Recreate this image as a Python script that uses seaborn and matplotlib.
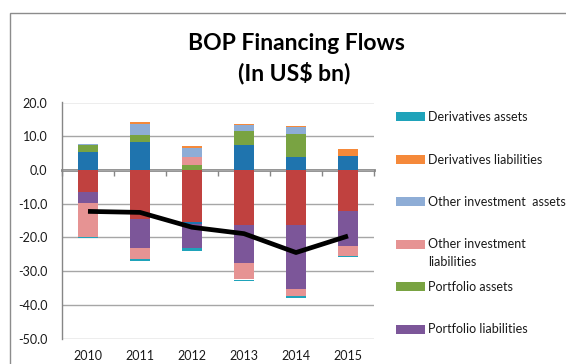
import numpy as np
import matplotlib
matplotlib.use("Agg")
import matplotlib.pyplot as plt
from matplotlib.patches import Rectangle
from matplotlib.ticker import FormatStrFormatter, MultipleLocator
import seaborn as sns

# ---- data (US$ bn) ----
years = ["2010", "2011", "2012", "2013", "2014", "2015"]

direct_inv_assets = [5.4, 8.3, -0.6, 7.5, 3.7, 4.1]
direct_inv_liabilities = [-6.5, -14.6, -15.4, -16.2, -16.4, -12.2]
portfolio_assets = [2.1, 2.0, 1.4, 4.0, 6.9, 0.0]
portfolio_liabilities = [-3.4, -8.5, -7.2, -11.3, -19.0, -10.3]
other_inv_assets = [0.3, 3.3, 2.9, 1.7, 2.0, 0.0]
other_inv_liabilities = [-10.1, -3.4, 2.3, -5.0, -2.1, -3.0]
derivatives_assets = [-0.3, -0.5, -0.8, -0.5, -0.5, -0.4]
derivatives_liabilities = [0.0, 0.6, 0.5, 0.4, 0.4, 2.0]
net_financing = [-12.3, -12.6, -17.0, -18.9, -24.5, -19.6]

legend_labels = [
    "Derivatives assets",
    "Derivatives liabilities",
    "Other investment  assets",
    "Other investment\nliabilities",
    "Portfolio assets",
    "Portfolio liabilities",
]

series = {
    "Direct investment assets": (direct_inv_assets, "#1F74AE"),
    "Direct investment liabilities": (direct_inv_liabilities, "#C0413F"),
    "Portfolio assets": (portfolio_assets, "#79A342"),
    "Portfolio liabilities": (portfolio_liabilities, "#7C5699"),
    "Other investment assets": (other_inv_assets, "#8EADD6"),
    "Other investment liabilities": (other_inv_liabilities, "#E69393"),
    "Derivatives assets": (derivatives_assets, "#1FA3BA"),
    "Derivatives liabilities": (derivatives_liabilities, "#F5893A"),
}

# stacking order above and below zero
pos_order = ["Direct investment assets", "Portfolio assets",
             "Other investment liabilities", "Other investment assets",
             "Derivatives liabilities"]
neg_order = ["Direct investment liabilities", "Direct investment assets",
             "Portfolio liabilities", "Other investment liabilities",
             "Derivatives assets"]

plt.rcParams["axes.unicode_minus"] = False
sns.set_style("white")
plt.rcParams["font.family"] = ["Lato", "DejaVu Sans"]

W, H = 566, 364
fig = plt.figure(figsize=(W / 100, H / 100), dpi=100)
ax = fig.add_axes([62 / W, 1 - 338.5 / H, 312 / W, 236 / H])

pos_base = np.zeros(len(years))
for name in pos_order:
    vals, col = series[name]
    part = np.clip(np.array(vals), 0, None)
    sns.barplot(x=years, y=part, bottom=pos_base.copy(), color=col,
                saturation=1, width=0.4, errorbar=None, linewidth=0, ax=ax)
    pos_base += part

neg_base = np.zeros(len(years))
for name in neg_order:
    vals, col = series[name]
    part = np.clip(np.array(vals), None, 0)
    sns.barplot(x=years, y=part, bottom=neg_base.copy(), color=col,
                saturation=1, width=0.4, errorbar=None, linewidth=0, ax=ax)
    neg_base += part

sns.lineplot(x=np.arange(len(years)), y=net_financing, color="black",
             linewidth=3.4, solid_joinstyle="round", solid_capstyle="butt", ax=ax)

ax.set_xlim(-0.5, len(years) - 0.5)
ax.set_ylim(-50, 20)
ax.yaxis.set_major_locator(MultipleLocator(10))
ax.yaxis.set_major_formatter(FormatStrFormatter("%.1f"))
ax.yaxis.grid(True, color="#A6A6A6", linewidth=1.0)
ax.set_axisbelow(True)
ax.set_xlabel("")
ax.set_ylabel("")

for s in ("top", "right", "bottom"):
    ax.spines[s].set_visible(False)
ax.spines["left"].set_color("#868686")
ax.spines["left"].set_linewidth(1.0)
ax.tick_params(axis="y", direction="out", length=5, width=1, color="#868686",
               pad=5.5, labelsize=9, labelcolor="#1A1A1A")
ax.tick_params(axis="x", length=0, pad=8, labelsize=9, labelcolor="#1A1A1A")

# category axis drawn across the zero line
zero_frac = (0 - (-50)) / 70
sec = ax.secondary_xaxis(zero_frac)
sec.set_alignment("bottom")
sec.set_xticks(np.arange(-0.5, len(years), 1.0))
sec.tick_params(axis="x", direction="out", length=4, width=1, color="#868686",
                labelbottom=False, labeltop=False)
sec.spines["bottom"].set_color("#868686")
sec.spines["bottom"].set_linewidth(2.0)

# title
fig.text(296 / W, 1 - 43 / H, "BOP Financing Flows", ha="center", va="center",
         fontsize=16.5, fontweight="bold", color="black")
fig.text(294 / W, 1 - 73 / H, "(In US$ bn)", ha="center", va="center",
         fontsize=16.5, fontweight="bold", color="black")

# legend
line_gap = 17
for i, label in enumerate(legend_labels):
    key = label.replace("\n", " ").replace("  ", " ")
    col = series[key][1]
    yc = 117 + 42.4 * i
    fig.add_artist(Rectangle((396 / W, 1 - (yc + 4.5) / H), 29 / W, 9 / H,
                             transform=fig.transFigure, facecolor=col,
                             edgecolor="none"))
    extra_lines = label.count("\n")
    fig.text(428 / W, 1 - (yc + 4.3 + extra_lines * line_gap) / H, label,
             ha="left", va="baseline", fontsize=9, color="#1A1A1A",
             linespacing=1.55)

# chart frame
fig.add_artist(Rectangle((10 / W, -0.5), 2.0, 0.5 + (1 - 13 / H),
                         transform=fig.transFigure, fill=False,
                         edgecolor="#8C8C8C", linewidth=1.0))

fig.savefig("out.png", dpi=100)
